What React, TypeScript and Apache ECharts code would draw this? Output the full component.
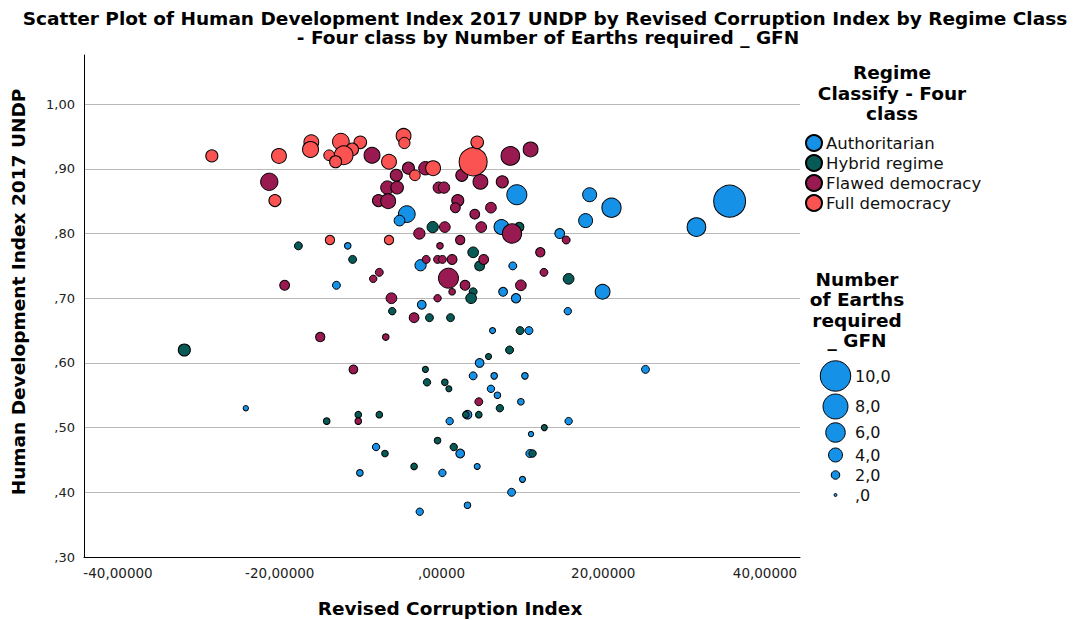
import React, { useEffect, useRef } from 'react';
import * as echarts from 'echarts';

const FONT = '"DejaVu Sans", Verdana, sans-serif';

const regimeClasses = ['Authoritarian', 'Hybrid regime', 'Flawed democracy', 'Full democracy'];
const classColors = ['#1691e8', '#075a55', '#991a51', '#fb5252'];

// [Revised Corruption Index, HDI 2017 UNDP, Number of Earths required _ GFN]
const authoritarian: number[][] = [
  [-4.3, 0.83, 5.0], [-5.2, 0.82, 2.8], [-11.6, 0.781, 1.3], [9.3, 0.86, 6.2], [18.3, 0.86, 4.0],
  [21.0, 0.84, 5.9], [17.8, 0.82, 4.0], [35.6, 0.85, 10.5], [31.5, 0.81, 5.7], [7.4, 0.81, 4.3],
  [14.6, 0.8, 2.5], [-13.0, 0.72, 1.8], [-2.6, 0.751, 3.0], [-2.45, 0.69, 2.1], [8.8, 0.75, 1.8],
  [7.6, 0.71, 2.1], [19.9, 0.71, 4.3], [9.2, 0.7, 2.3], [15.6, 0.68, 1.6], [6.3, 0.65, 1.1],
  [10.8, 0.65, 1.8], [4.7, 0.6, 2.1], [3.9, 0.58, 1.8], [6.5, 0.58, 1.3], [10.3, 0.58, 1.3],
  [25.2, 0.59, 1.8], [6.1, 0.56, 1.6], [6.9, 0.55, 1.3], [-24.2, 0.53, 0.85], [3.2, 0.52, 2.1],
  [1.0, 0.51, 1.6], [2.3, 0.46, 2.1], [-8.1, 0.47, 1.6], [0.1, 0.43, 1.6], [-10.1, 0.43, 1.3],
  [4.4, 0.44, 1.1], [3.2, 0.38, 1.3], [-2.7, 0.37, 1.6], [9.8, 0.54, 1.3], [15.7, 0.51, 1.6],
  [11.05, 0.49, 0.85], [10.9, 0.46, 1.8], [10.0, 0.42, 1.1], [8.65, 0.4, 1.8],
];

const hybridRegime: number[][] = [
  [-1.1, 0.81, 3.0], [3.9, 0.771, 2.8], [-17.7, 0.781, 1.8], [-11.0, 0.76, 1.8], [9.6, 0.81, 2.3],
  [4.7, 0.75, 2.5], [3.9, 0.71, 1.8], [3.65, 0.7, 2.8], [-6.1, 0.68, 1.6], [-1.5, 0.67, 1.8],
  [1.1, 0.67, 1.8], [-31.8, 0.62, 3.3], [-2.0, 0.59, 1.1], [15.7, 0.73, 2.8], [9.7, 0.65, 1.8],
  [8.4, 0.62, 1.8], [5.8, 0.61, 1.1], [-1.8, 0.57, 1.6], [0.4, 0.57, 1.3], [0.9, 0.56, 1.1],
  [-14.2, 0.51, 1.3], [-10.3, 0.52, 1.3], [-7.7, 0.52, 1.3], [3.0, 0.52, 1.3], [4.6, 0.52, 1.3],
  [-0.5, 0.48, 1.3], [1.5, 0.47, 1.6], [-7.0, 0.46, 1.3], [-3.4, 0.44, 1.3], [7.2, 0.53, 1.6],
  [12.7, 0.5, 1.1], [11.25, 0.46, 1.6],
];

const flawedDemocracy: number[][] = [
  [-8.6, 0.921, 4.7], [-4.1, 0.901, 3.3], [-2.0, 0.901, 3.8], [-5.6, 0.89, 3.3], [-21.3, 0.88, 5.2],
  [-6.7, 0.871, 3.8], [-5.5, 0.871, 3.5], [-7.8, 0.851, 3.3], [-6.6, 0.85, 4.3], [-0.35, 0.871, 3.0],
  [0.3, 0.871, 3.0], [2.0, 0.851, 3.3], [1.7, 0.84, 2.5], [4.1, 0.83, 2.5], [2.5, 0.89, 3.3],
  [-2.75, 0.8, 3.0], [0.4, 0.81, 2.8], [2.3, 0.79, 2.3], [-0.2, 0.781, 1.3],
  [8.5, 0.92, 5.7], [11.0, 0.93, 4.3], [7.5, 0.88, 3.3], [6.1, 0.84, 2.8], [4.9, 0.81, 2.8],
  [8.7, 0.8, 5.9], [15.4, 0.79, 1.8], [12.2, 0.771, 2.3], [-19.4, 0.72, 2.5], [-7.7, 0.74, 1.8],
  [-8.45, 0.73, 1.6], [-6.2, 0.7, 2.8], [-1.9, 0.76, 1.8], [-0.5, 0.76, 1.8], [0.1, 0.76, 1.8],
  [1.3, 0.76, 2.5], [0.85, 0.731, 6.2], [2.9, 0.72, 2.5], [1.3, 0.71, 1.3], [-0.5, 0.7, 1.6],
  [-3.4, 0.67, 2.5], [-15.0, 0.64, 2.3], [-6.9, 0.64, 1.3], [-10.9, 0.59, 2.1], [5.2, 0.76, 2.5],
  [12.65, 0.74, 1.8], [9.8, 0.72, 2.8], [4.6, 0.54, 1.8], [-10.3, 0.51, 1.3], [4.8, 0.88, 4.3],
];

const fullDemocracy: number[][] = [
  [-28.4, 0.92, 3.3], [-20.1, 0.92, 4.3], [-16.1, 0.941, 4.3], [-16.2, 0.93, 4.7], [-12.45, 0.942, 5.0],
  [-10.05, 0.941, 3.5], [-11.05, 0.93, 3.5], [-12.1, 0.921, 5.7], [-13.9, 0.921, 2.8], [-13.1, 0.911, 3.3],
  [-4.7, 0.951, 4.3], [-4.6, 0.94, 3.0], [-6.5, 0.911, 4.3], [-1.05, 0.901, 4.3], [-3.3, 0.89, 2.8],
  [-20.6, 0.851, 3.3], [3.9, 0.911, 9.1], [4.4, 0.941, 3.5], [-13.8, 0.79, 2.3], [-6.5, 0.79, 2.3],
];

const classData = [authoritarian, hybridRegime, flawedDemocracy, fullDemocracy];

const sizeLegendValues = [10, 8, 6, 4, 2, 0];
const sizeLegendLabels = ['10,0', '8,0', '6,0', '4,0', '2,0', ',0'];

const earthsToSize = (v: number) => 3 + 2.75 * v;

const fmtY = (v: number) => {
  if (Math.abs(v * 10 - Math.round(v * 10)) > 0.01) return '';
  const s = v.toFixed(2).replace('.', ',');
  return s.startsWith('0') ? s.slice(1) : s;
};
const fmtX = (v: number) => {
  const a = Math.abs(v).toFixed(5).replace('.', ',');
  const s = a.startsWith('0') ? a.slice(1) : a;
  return (v < 0 ? '-' : '') + s;
};

export default function App() {
  const ref = useRef<HTMLDivElement>(null);
  useEffect(() => {
    document.body.style.margin = '0';
    if (!ref.current) return;
    const chart = echarts.init(ref.current, null, { renderer: 'svg' });

    const sizeLegendY = [376, 406.5, 432.5, 455, 475, 495];
    const sizeGraphics: any[] = [];
    sizeLegendValues.forEach((v, i) => {
      sizeGraphics.push({
        type: 'circle',
        shape: { cx: 835.5, cy: sizeLegendY[i], r: earthsToSize(v) / 2 },
        style: { fill: classColors[0], stroke: '#000', lineWidth: 1 },
      });
      sizeGraphics.push({
        type: 'text',
        x: 855,
        y: sizeLegendY[i],
        style: {
          text: sizeLegendLabels[i],
          fill: '#111',
          font: `16px ${FONT}`,
          textAlign: 'left',
          textVerticalAlign: 'middle',
        },
      });
    });

    const boldText = (text: string, x: number, y: number, extra: any = {}) => ({
      type: 'text',
      x,
      y,
      ...extra,
      style: {
        text,
        fill: '#000',
        font: `bold 18.5px ${FONT}`,
        textAlign: 'center',
        textVerticalAlign: 'middle',
        lineHeight: 20.5,
        ...(extra.style || {}),
      },
    });

    const option: any = {
      animation: false,
      backgroundColor: '#fff',
      grid: [
        { left: 84, top: 55, right: 292, bottom: 63 },
        { left: 118, top: 55, right: 327, bottom: 63 },
      ],
      xAxis: [
        {
          gridIndex: 0,
          type: 'value',
          min: -44.2,
          max: 44.3,
          axisLine: { show: true, onZero: false, lineStyle: { color: '#000', width: 1 } },
          axisTick: { show: false },
          axisLabel: { show: false },
          splitLine: { show: false },
        },
        {
          gridIndex: 1,
          type: 'value',
          min: -40,
          max: 40,
          interval: 20,
          axisLine: { show: false },
          axisTick: { show: false },
          splitLine: { show: false },
          axisLabel: {
            show: true,
            margin: 9,
            fontSize: 13.5,
            color: '#222',
            fontFamily: FONT,
            formatter: fmtX,
          },
        },
      ],
      yAxis: [
        {
          gridIndex: 0,
          type: 'value',
          min: 0.3,
          max: 1.076,
          interval: 0.1,
          axisLine: { show: true, onZero: false, lineStyle: { color: '#000', width: 1 } },
          axisTick: { show: false },
          axisLabel: {
            show: true,
            margin: 9,
            fontSize: 13,
            color: '#222',
            fontFamily: FONT,
            formatter: fmtY,
            showMaxLabel: false,
          },
          splitLine: {
            show: true,
            showMinLine: false,
            showMaxLine: false,
            lineStyle: { color: '#b8b8b8', width: 1 },
          },
        },
        { gridIndex: 1, type: 'value', show: false, min: 0, max: 1 },
      ],
      legend: {
        show: true,
        orient: 'vertical',
        left: 805,
        top: 133,
        padding: 0,
        icon: 'circle',
        itemWidth: 16,
        itemHeight: 16,
        itemGap: 0,
        selectedMode: false,
        data: regimeClasses,
        textStyle: { fontSize: 16.5, lineHeight: 20, color: '#111', fontFamily: FONT, padding: [0, 0, 0, -1] },
      },
      series: regimeClasses.map((name, i) => ({
        name,
        type: 'scatter',
        xAxisIndex: 0,
        yAxisIndex: 0,
        data: classData[i],
        symbolSize: (val: number[]) => earthsToSize(val[2]),
        itemStyle: { color: classColors[i], borderColor: '#000', borderWidth: 1, opacity: 1 },
        emphasis: { disabled: true },
        z: 2 + i,
      })),
      graphic: [
        boldText('Scatter Plot of Human Development Index 2017 UNDP by Revised Corruption Index by Regime Class', 545, 18),
        boldText('- Four class by Number of Earths required _ GFN', 548, 37),
        boldText('Revised Corruption Index', 450, 608),
        boldText('Human Development Index 2017 UNDP', 18, 292, { rotation: Math.PI / 2 }),
        boldText('Regime\nClassify - Four\nclass', 892, 93),
        boldText('Number\nof Earths\nrequired\n_ GFN', 857, 310),
        ...sizeGraphics,
      ],
    };
    chart.setOption(option);
    return () => chart.dispose();
  }, []);
  return <div ref={ref} style={{ width: 1092, height: 620 }} />;
}
